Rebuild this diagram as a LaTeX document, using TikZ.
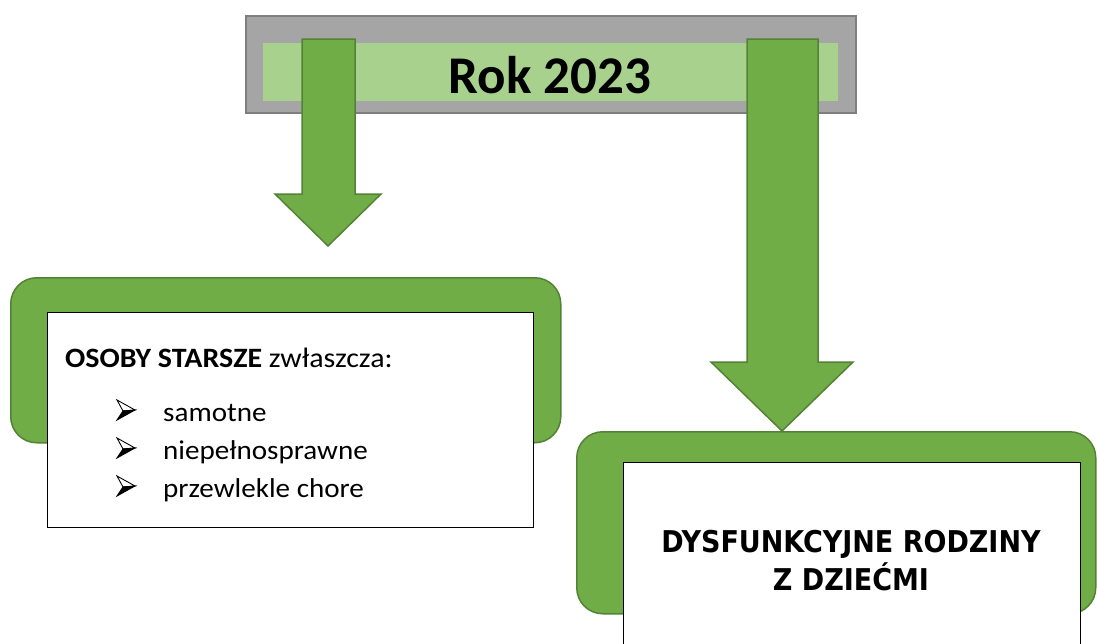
\documentclass[tikz,border=0pt]{standalone}
\usepackage{fontspec}
\setmainfont{Carlito}
\newfontfamily\bodyfont[FakeStretch=1.07]{Carlito}
\newfontfamily\dejavucond{DejaVu Sans Condensed}
\definecolor{grn}{HTML}{70AD47}
\definecolor{grnd}{HTML}{548235}
\definecolor{bandc}{HTML}{A9D18E}
\definecolor{gry}{HTML}{A5A5A5}
\definecolor{gryd}{HTML}{7F7F7F}
\tikzset{
  yearbox/.style={draw=gryd, fill=gry, line width=1.5pt, inner sep=0pt, anchor=north west},
  bandbox/.style={fill=bandc, inner sep=0pt, anchor=north west},
  blockarrow/.style={draw=grnd, fill=grn, line width=1.5pt, line join=miter},
  greenbox/.style={draw=grnd, fill=grn, line width=1.5pt, rounded corners=26pt, inner sep=0pt, anchor=north west},
  whitebox/.style={draw=black, fill=white, line width=1.2pt, inner sep=0pt, anchor=north west},
  bodytxt/.style={anchor=base west, inner sep=0pt, font=\bodyfont\fontsize{27.2}{34}\selectfont},
  famtxt/.style={anchor=base, inner sep=0pt, font=\dejavucond\bfseries\fontsize{30}{36}\selectfont},
  dartbullet/.pic={
    \draw[black, line width=0.9pt, fill=white, line join=miter] (0,-20) -- (18,-10) -- (6,-9) -- cycle;
    \draw[black, line width=0.9pt, fill=black, line join=miter] (6,-9) -- (18,-10) -- (0,0) -- cycle;
  }
}
\begin{document}
\begin{tikzpicture}[x=1pt,y=-1pt]
\useasboundingbox (0,0) rectangle (1097,643);
\clip (0,0) rectangle (1097,643);
% top year box
\node[yearbox, minimum width=610pt, minimum height=97pt] (year) at (245,15) {};
\node[bandbox, minimum width=575pt, minimum height=58pt] (band) at (263,43) {};
\node[anchor=base, inner sep=0pt, font=\bfseries\fontsize{53}{60}\selectfont] (yeartxt) at (550,93) {Rok 2023};
% block arrows
\draw[blockarrow] (302,39) -- (355,39) -- (355,194) -- (381,194) -- (328,246) -- (275,194) -- (302,194) -- cycle;
\draw[blockarrow] (747,39) -- (818,39) -- (818,362) -- (853,362) -- (782,431) -- (711,362) -- (747,362) -- cycle;
% left group
\node[greenbox, minimum width=550pt, minimum height=165pt] (lgreen) at (10,277) {};
\node[whitebox, minimum width=486pt, minimum height=215pt] (lwhite) at (47,312) {};
\node[bodytxt, font=\bodyfont\fontsize{28}{34}\selectfont] (lhead) at (65,367) {\textbf{OSOBY STARSZE} zwłaszcza:};
\pic at (117,420) {dartbullet};
\node[bodytxt] (t1) at (163,421) {samotne};
\pic at (117,458) {dartbullet};
\node[bodytxt] (t2) at (163,459) {niepełnosprawne};
\pic at (117,496) {dartbullet};
\node[bodytxt] (t3) at (163,497) {przewlekle chore};
% right group
\node[greenbox, minimum width=519pt, minimum height=182pt] (rgreen) at (576,431) {};
\node[whitebox, minimum width=457pt, minimum height=230pt] (rwhite) at (623,462) {};
\node[famtxt] (f1) at (851,552) {DYSFUNKCYJNE RODZINY};
\node[famtxt] (f2) at (851,590) {Z DZIEĆMI};
\end{tikzpicture}
\end{document}
